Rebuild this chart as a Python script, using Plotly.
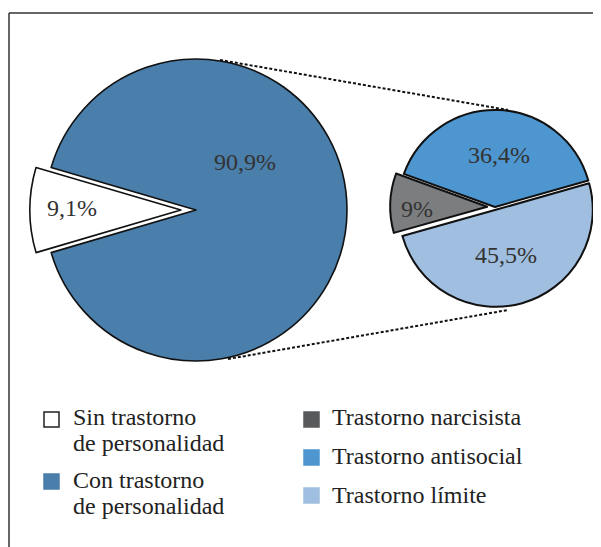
import plotly.graph_objects as go

# page has an 8px body margin; figure sized to fit the 601x547 window
OFF = 8
W, H = 601 - OFF, 547 - OFF

# ---- data ----
main_labels = ["Sin trastorno<br>de personalidad", "Con trastorno<br>de personalidad"]
main_values = [9.1, 90.9]
main_colors = ["#ffffff", "#4a7eab"]

sub_labels = ["Trastorno antisocial", "Trastorno narcisista", "Trastorno límite"]
sub_values = [36.4, 9, 45.5]
sub_colors = ["#4d96d0", "#7c7d7f", "#a0bedf"]

legend_left = ["Sin trastorno<br>de personalidad", "Con trastorno<br>de personalidad"]
legend_left_colors = ["#ffffff", "#4a7eab"]
legend_right = ["Trastorno narcisista", "Trastorno antisocial", "Trastorno límite"]
legend_right_colors = ["#58595b", "#4d96d0", "#a0bedf"]


def fmt(v):
    return f"{v:g}".replace(".", ",") + "%"


def px(x):
    return (x - OFF) / W


def py(y):
    return 1 - (y - OFF) / H


def dom(cx, cy, r, pull):
    half = r * (1 + pull)
    return dict(x=[px(cx - half), px(cx + half)], y=[py(cy + half), py(cy - half)])


FONT = "Liberation Serif"
TXT = "#333333"

fig = go.Figure()

fig.add_trace(go.Pie(
    labels=main_labels, values=main_values, sort=False, direction="counterclockwise",
    rotation=-106.4, pull=[0.1, 0], textinfo="none", hoverinfo="label+percent",
    marker=dict(colors=main_colors, line=dict(color="#111111", width=1.6)),
    domain=dom(196, 210, 151, 0.1), showlegend=False,
))

fig.add_trace(go.Pie(
    labels=sub_labels, values=sub_values, sort=False, direction="counterclockwise",
    rotation=-70, pull=[0, 0.08, 0.03], textinfo="none", hoverinfo="label+value",
    marker=dict(colors=sub_colors, line=dict(color="#111111", width=2)),
    domain=dom(495, 207, 97, 0.08), showlegend=False,
))

annotations = []
shapes = []

# slice value labels
main_pos = [(72, 208), (245, 162)]
for v, (x, y) in zip(main_values, main_pos):
    annotations.append(dict(x=px(x), y=py(y), xref="paper", yref="paper", text=fmt(v),
                            showarrow=False, xanchor="center", yanchor="middle",
                            font=dict(family=FONT, size=24, color=TXT)))
sub_pos = [(499, 155), (417, 209), (506, 255)]
for v, (x, y) in zip(sub_values, sub_pos):
    annotations.append(dict(x=px(x), y=py(y), xref="paper", yref="paper", text=fmt(v),
                            showarrow=False, xanchor="center", yanchor="middle",
                            font=dict(family=FONT, size=24, color=TXT)))

# connector lines
for (x0, y0, x1, y1) in [(220, 60, 508, 110), (228, 359, 508, 310)]:
    shapes.append(dict(type="line", xref="paper", yref="paper", x0=px(x0), y0=py(y0),
                       x1=px(x1), y1=py(y1), line=dict(color="#111111", width=2, dash="3px,2px")))

# frame
shapes.append(dict(type="line", xref="paper", yref="paper", x0=px(9), y0=py(13), x1=px(601), y1=py(13),
                   line=dict(color="#333333", width=1.5)))
shapes.append(dict(type="line", xref="paper", yref="paper", x0=px(9), y0=py(13), x1=px(9), y1=py(547),
                   line=dict(color="#333333", width=1.5)))


# legend
def legend_item(label, color, sx, sy, tx, ty_list):
    shapes.append(dict(type="rect", xref="paper", yref="paper", x0=px(sx), x1=px(sx + 15),
                       y0=py(sy + 15), y1=py(sy), fillcolor=color,
                       line=dict(color="#222222" if color == "#ffffff" else color, width=1.5)))
    for line, ty in zip(label.split("<br>"), ty_list):
        annotations.append(dict(x=px(tx), y=py(ty), xref="paper", yref="paper", text=line,
                                showarrow=False, xanchor="left", yanchor="middle",
                                font=dict(family=FONT, size=24, color="#222222")))


left_sq = [412, 474]
left_txt = [[416.5, 442.5], [479.5, 505.5]]
for lab, col, sy, tys in zip(legend_left, legend_left_colors, left_sq, left_txt):
    legend_item(lab, col, 44, sy, 71, tys)

right_sq = [412, 450, 488]
right_txt = [[417], [456], [495]]
for lab, col, sy, tys in zip(legend_right, legend_right_colors, right_sq, right_txt):
    legend_item(lab, col, 304, sy, 330, tys)

fig.update_layout(
    width=W, height=H, autosize=False,
    margin=dict(l=0, r=0, t=0, b=0),
    paper_bgcolor="white", plot_bgcolor="white",
    annotations=annotations, shapes=shapes, showlegend=False,
)

fig.write_html("out.html")
